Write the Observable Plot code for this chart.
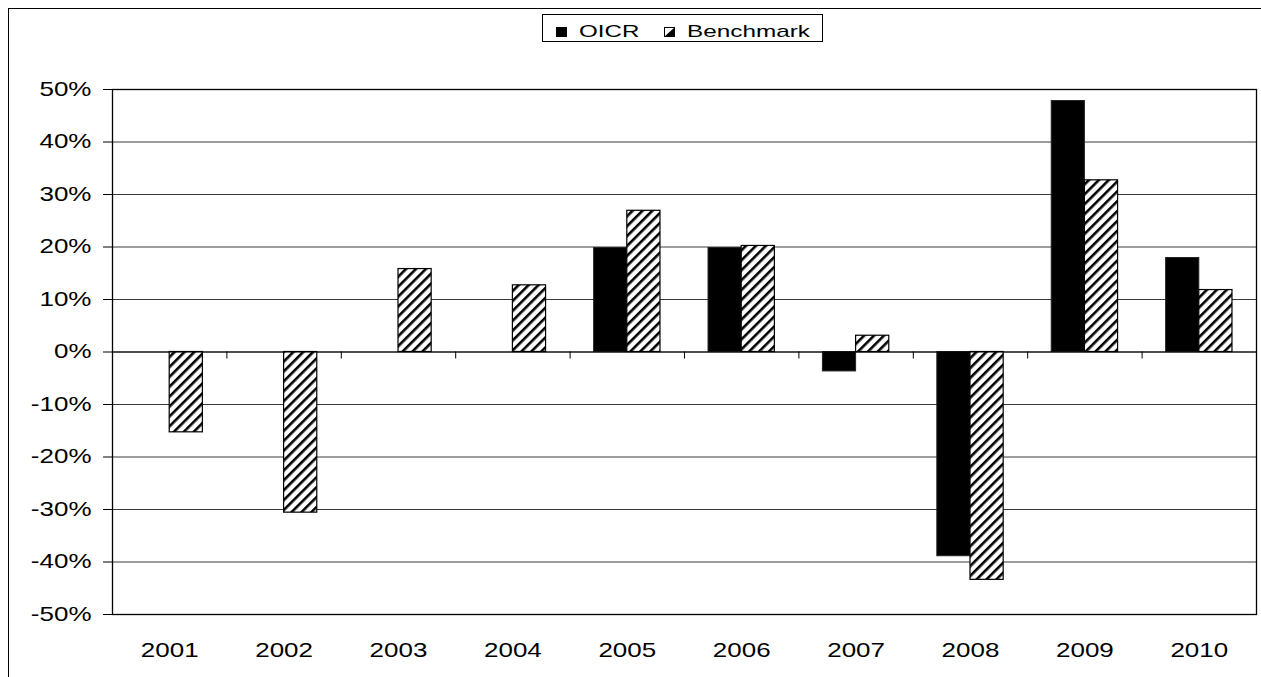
<!DOCTYPE html>
<html>
<head>
<meta charset="utf-8">
<script src="https://cdn.jsdelivr.net/npm/d3@7"></script>
<script src="https://cdn.jsdelivr.net/npm/@observablehq/plot@0.6"></script>
<style>
  body { margin: 0; background: #fff; font-family: "Liberation Sans", Arial, sans-serif; }
  #wrap { position: relative; width: 1261px; height: 677px; overflow: hidden; background: #fff; }
  #outer { position: absolute; left: 8px; top: 8px; width: 1400px; height: 900px;
           border-left: 1px solid #000; border-top: 1px solid #000; pointer-events: none; }
  #chart { position: absolute; left: 0; top: 0; }
  #legend { position: absolute; left: 542px; top: 14px; width: 281px; height: 28px;
            border: 1px solid #000; box-sizing: border-box; background: #fff; }
  .sw { position: absolute; top: 12px; width: 11px; height: 10px; box-sizing: border-box; }
  .lt { position: absolute; top: 8px; font-size: 17px; line-height: 17px; white-space: nowrap;
        transform-origin: left center; color: #000; }
</style>
</head>
<body>
<svg width="0" height="0" style="position:absolute">
  <defs>
    <pattern id="hatch" patternUnits="userSpaceOnUse" width="7" height="7" patternTransform="rotate(45)">
      <rect width="7" height="7" fill="#fff"></rect>
      <rect width="2.6" height="7" fill="#000"></rect>
    </pattern>
  </defs>
</svg>
<div id="wrap">
  <div id="chart"></div>
  <div id="outer"></div>
  <div id="legend"></div>
</div>
<script>
// ---- data (percent) ----
const years = [2001, 2002, 2003, 2004, 2005, 2006, 2007, 2008, 2009, 2010];
const oicr = [null, null, null, null, 19.8, 19.8, -3.7, -38.9, 47.8, 17.9];
const benchmark = [-15.3, -30.6, 15.8, 12.7, 26.9, 20.2, 3.1, -43.4, 32.7, 11.8];
const seriesNames = ["OICR", "Benchmark"];
const yTicks = [-50, -40, -30, -20, -10, 0, 10, 20, 30, 40, 50];

const barWidth = 0.29; // fraction of a year slot per bar

const oicrRows = years.map((year, i) => ({year, value: oicr[i]})).filter(d => d.value != null);
const benchRows = years.map((year, i) => ({year, value: benchmark[i]})).filter(d => d.value != null);
const boundaries = years.slice(0, -1).map(y => y + 0.5);

const plot = Plot.plot({
  width: 1261,
  height: 677,
  marginLeft: 112,
  marginRight: 5,
  marginTop: 89,
  marginBottom: 63,
  style: {fontSize: "20px", fontFamily: "'Liberation Sans', Arial, sans-serif", color: "#000", background: "transparent"},
  x: {
    type: "linear",
    domain: [years[0] - 0.5, years[years.length - 1] + 0.5],
    ticks: years,
    tickSize: 0,
    tickPadding: 28,
    tickFormat: d => String(d),
    label: null
  },
  y: {
    domain: [yTicks[0], yTicks[yTicks.length - 1]],
    ticks: yTicks,
    tickSize: 9,
    tickPadding: 12,
    tickFormat: d => `${d}%`,
    label: null
  },
  marks: [
    Plot.ruleY(yTicks, {stroke: "#3a3a3a", strokeWidth: 1}),
    Plot.rect(oicrRows, {x1: d => d.year - barWidth, x2: d => d.year, y1: 0, y2: "value",
      fill: "black", stroke: "#222", strokeWidth: 1}),
    Plot.rect(benchRows, {x1: d => d.year, x2: d => d.year + barWidth, y1: 0, y2: "value",
      fill: "url(#hatch)", stroke: "black", strokeWidth: 1.2}),
    Plot.ruleY([0], {stroke: "black", strokeWidth: 1.2}),
    Plot.ruleX(boundaries, {x: d => d, y1: 0, y2: 0, insetBottom: -7, stroke: "black"}),
    Plot.frame({stroke: "black", strokeWidth: 1.3})
  ]
});
document.getElementById("chart").appendChild(plot);

// widen the tick labels horizontally like the original
plot.querySelectorAll('g[aria-label$="tick label"] text').forEach(t => {
  const tr = t.getAttribute("transform") || "";
  t.setAttribute("transform", tr + " scale(1.3,1)");
});

// ---- legend ----
const legend = d3.select("#legend");
const items = [
  {name: seriesNames[0], swX: 13, txX: 36, sx: 1.42},
  {name: seriesNames[1], swX: 121, txX: 144, sx: 1.43}
];
items.forEach((it, i) => {
  if (i === 0) {
    legend.append("div").attr("class", "sw")
      .style("left", it.swX + "px").style("background", "#000");
  } else {
    legend.append("svg").attr("class", "sw")
      .style("left", it.swX + "px").attr("width", 11).attr("height", 10)
      .call(s => {
        s.append("rect").attr("x", 0.5).attr("y", 0.5).attr("width", 10).attr("height", 9)
          .attr("fill", "#fff").attr("stroke", "#000");
        s.append("polygon").attr("points", "10.5,0.5 10.5,9.5 0.5,9.5").attr("fill", "#000");
      });
  }
  legend.append("div").attr("class", "lt")
    .style("left", it.txX + "px")
    .style("transform", `scaleX(${it.sx})`)
    .text(it.name);
});
</script>
</body>
</html>
